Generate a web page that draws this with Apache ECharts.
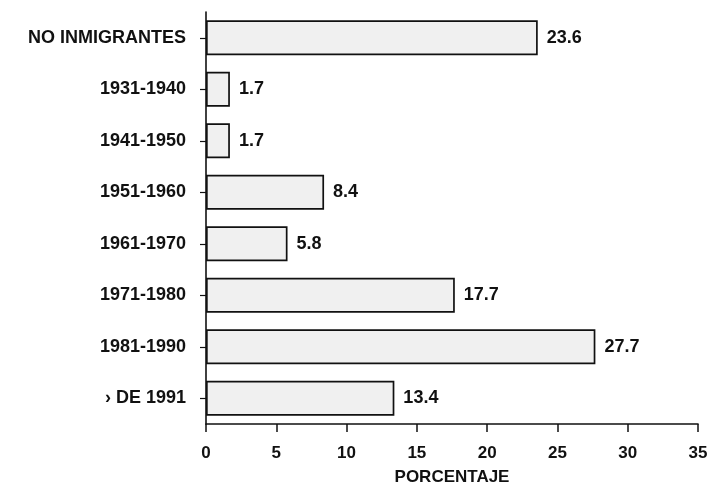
<!DOCTYPE html>
<html>
<head>
<meta charset="utf-8">
<script src="https://cdn.jsdelivr.net/npm/echarts@6/dist/echarts.min.js"></script>
<style>
html,body{margin:0;padding:0;background:#fff;}
#chart{width:713px;height:488px;}
</style>
</head>
<body>
<div id="chart"></div>
<script>
const categories = ['NO INMIGRANTES', '1931-1940', '1941-1950', '1951-1960', '1961-1970', '1971-1980', '1981-1990', '› DE 1991'];
const values = [23.6, 1.7, 1.7, 8.4, 5.8, 17.7, 27.7, 13.4];
const xTicks = [0, 5, 10, 15, 20, 25, 30, 35];
const axisTitle = 'PORCENTAJE';

const font = 'Liberation Sans, Arial, sans-serif';
const chart = echarts.init(document.getElementById('chart'), null, {renderer: 'canvas'});
chart.setOption({
  animation: false,
  backgroundColor: '#fff',
  grid: {left: 206, right: 15, top: 12, bottom: 64, containLabel: false, outerBoundsMode: 'none'},
  xAxis: {
    type: 'value',
    min: xTicks[0],
    max: xTicks[xTicks.length - 1],
    interval: xTicks[1] - xTicks[0],
    name: axisTitle,
    nameLocation: 'middle',
    nameGap: 45,
    nameTextStyle: {color: '#111', fontFamily: font, fontWeight: 'bold', fontSize: 17},
    splitLine: {show: false},
    axisLine: {show: true, lineStyle: {color: '#111', width: 1.6}},
    axisTick: {show: true, length: 8, lineStyle: {color: '#111', width: 1.5}},
    axisLabel: {color: '#111', fontFamily: font, fontWeight: 'bold', fontSize: 17, margin: 21}
  },
  yAxis: {
    type: 'category',
    data: categories,
    inverse: true,
    axisLine: {show: true, lineStyle: {color: '#111', width: 1.6}},
    axisTick: {show: true, alignWithLabel: true, length: 6, lineStyle: {color: '#111', width: 1.2}},
    axisLabel: {color: '#111', fontFamily: font, fontWeight: 'bold', fontSize: 18, margin: 20}
  },
  series: [{
    type: 'bar',
    data: values,
    barCategoryGap: '32%',
    itemStyle: {color: '#f0f0f0', borderColor: '#111', borderWidth: 1.7},
    label: {
      show: true,
      position: 'right',
      distance: 9,
      color: '#111',
      fontFamily: font,
      fontWeight: 'bold',
      fontSize: 18,
      formatter: p => p.value.toFixed(1)
    }
  }]
});
</script>
</body>
</html>
